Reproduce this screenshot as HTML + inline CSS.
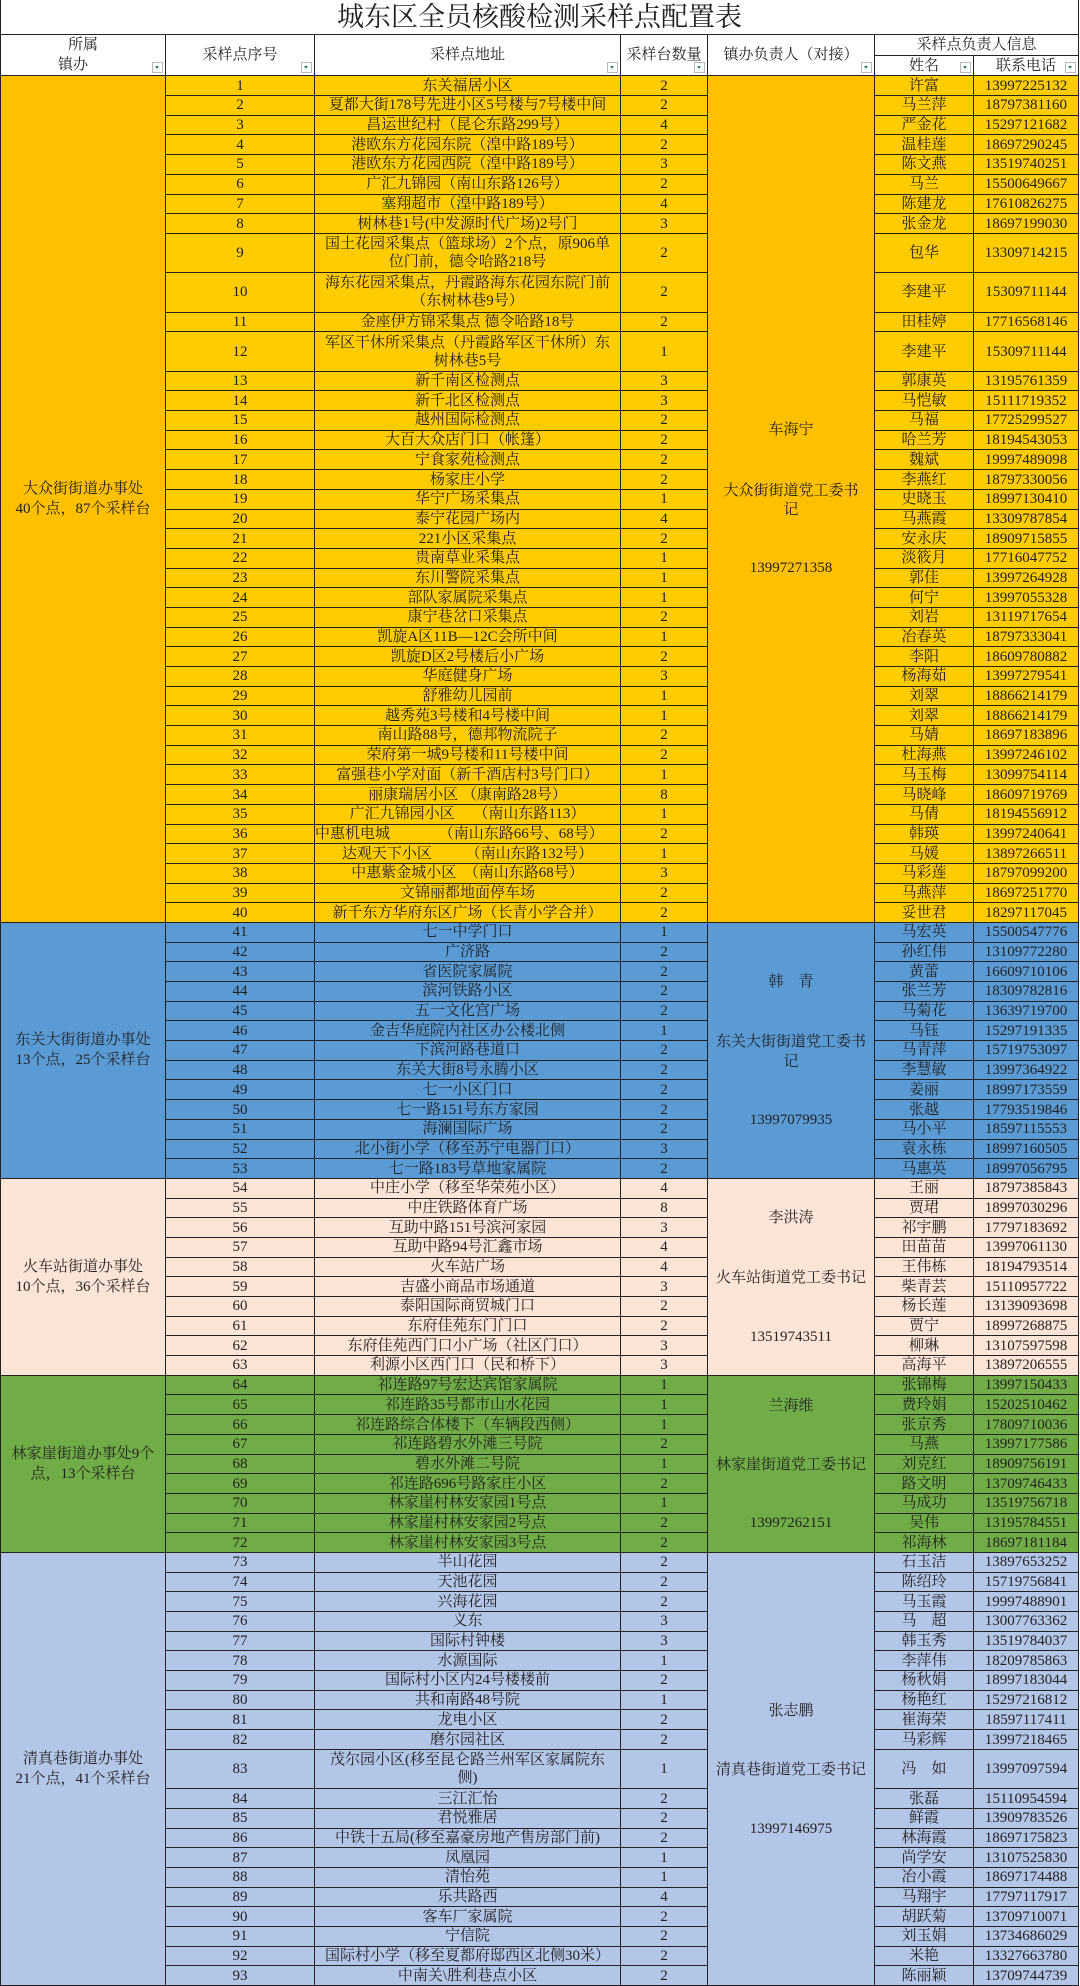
<!DOCTYPE html>
<html><head><meta charset="utf-8">
<style>
html,body{margin:0;padding:0;background:#fff;}
body{width:1080px;height:1985px;position:relative;overflow:hidden;font-family:"Liberation Serif","Noto Serif CJK SC",serif;color:#222;}
table{border-collapse:collapse;table-layout:fixed;position:absolute;left:0;top:0;width:1078px;}
td{border:1px solid #222;padding:0;text-align:center;font-size:15px;line-height:18px;white-space:nowrap;overflow:hidden;position:relative;}
tr.r{height:19.7px;}
tr.d{height:39.4px;}
tr.d td{white-space:normal;}
.title td{height:34px;font-size:27px;border-left:1px solid #222;border-top:none;}
.h td{background:#fff;height:19.7px;}
.y td{background:#FFCC00;}
.b td{background:#5B9BD5;}
.p td{background:#FCE4D6;}
.g td{background:#70AD47;}
.l td{background:#B4C6E7;}
td.my{background:#FFC000 !important;white-space:normal;}
td.m{white-space:normal;line-height:20px;}
.f{position:absolute;right:2px;bottom:2px;width:9px;height:9px;border:1px solid #bbb;background:#fff;}
.f:after{content:"";position:absolute;left:2px;top:3px;border-left:2.5px solid transparent;border-right:2.5px solid transparent;border-top:3px solid #2a8a5a;}
.c5{position:absolute;left:708px;width:166px;text-align:center;font-size:15px;line-height:20px;}
</style></head><body>
<table>
<colgroup><col style="width:165px"><col style="width:149px"><col style="width:306px"><col style="width:87px"><col style="width:167px"><col style="width:99px"><col style="width:105px"></colgroup>
<tr class="title"><td colspan="7" style="border-right:1px solid #222">城东区全员核酸检测采样点配置表</td></tr>
<tr class="h"><td rowspan="2" style="line-height:20px">所属<br><span style="margin-right:20px">镇办</span><span class="f"></span></td><td rowspan="2">采样点序号<span class="f"></span></td><td rowspan="2">采样点地址<span class="f"></span></td><td rowspan="2">采样台数量<span class="f"></span></td><td rowspan="2">镇办负责人（对接）<span class="f"></span></td><td colspan="2">采样点负责人信息</td></tr>
<tr class="h"><td>姓名<span class="f"></span></td><td>联系电话<span class="f"></span></td></tr>

<tr class="r y"><td rowspan="40" class="my m">大众街街道办事处<br>40个点，87个采样台</td><td>1</td><td>东关福居小区</td><td>2</td><td rowspan="40" class="my"></td><td>许富</td><td>13997225132</td></tr>
<tr class="r y"><td>2</td><td>夏都大街178号先进小区5号楼与7号楼中间</td><td>2</td><td>马兰萍</td><td>18797381160</td></tr>
<tr class="r y"><td>3</td><td>昌运世纪村（昆仑东路299号）</td><td>4</td><td>严金花</td><td>15297121682</td></tr>
<tr class="r y"><td>4</td><td>港欧东方花园东院（湟中路189号）</td><td>2</td><td>温桂莲</td><td>18697290245</td></tr>
<tr class="r y"><td>5</td><td>港欧东方花园西院（湟中路189号）</td><td>3</td><td>陈文燕</td><td>13519740251</td></tr>
<tr class="r y"><td>6</td><td>广汇九锦园（南山东路126号）</td><td>2</td><td>马兰</td><td>15500649667</td></tr>
<tr class="r y"><td>7</td><td>塞翔超市（湟中路189号）</td><td>4</td><td>陈建龙</td><td>17610826275</td></tr>
<tr class="r y"><td>8</td><td>树林巷1号(中发源时代广场)2号门</td><td>3</td><td>张金龙</td><td>18697199030</td></tr>
<tr class="d y"><td>9</td><td>国土花园采集点（篮球场）2个点，原906单<br>位门前，德令哈路218号</td><td>2</td><td>包华</td><td>13309714215</td></tr>
<tr class="d y"><td>10</td><td>海东花园采集点，丹霞路海东花园东院门前<br>（东树林巷9号）</td><td>2</td><td>李建平</td><td>15309711144</td></tr>
<tr class="r y"><td>11</td><td>金座伊方锦采集点 德令哈路18号</td><td>2</td><td>田桂婷</td><td>17716568146</td></tr>
<tr class="d y"><td>12</td><td>军区干休所采集点（丹霞路军区干休所）东<br>树林巷5号</td><td>1</td><td>李建平</td><td>15309711144</td></tr>
<tr class="r y"><td>13</td><td>新千南区检测点</td><td>3</td><td>郭康英</td><td>13195761359</td></tr>
<tr class="r y"><td>14</td><td>新千北区检测点</td><td>3</td><td>马恺敏</td><td>15111719352</td></tr>
<tr class="r y"><td>15</td><td>越州国际检测点</td><td>2</td><td>马福</td><td>17725299527</td></tr>
<tr class="r y"><td>16</td><td>大百大众店门口（帐篷）</td><td>2</td><td>哈兰芳</td><td>18194543053</td></tr>
<tr class="r y"><td>17</td><td>宁食家苑检测点</td><td>2</td><td>魏斌</td><td>19997489098</td></tr>
<tr class="r y"><td>18</td><td>杨家庄小学</td><td>2</td><td>李燕红</td><td>18797330056</td></tr>
<tr class="r y"><td>19</td><td>华宁广场采集点</td><td>1</td><td>史晓玉</td><td>18997130410</td></tr>
<tr class="r y"><td>20</td><td>泰宁花园广场内</td><td>4</td><td>马燕霞</td><td>13309787854</td></tr>
<tr class="r y"><td>21</td><td>221小区采集点</td><td>2</td><td>安永庆</td><td>18909715855</td></tr>
<tr class="r y"><td>22</td><td>贵南草业采集点</td><td>1</td><td>淡筱月</td><td>17716047752</td></tr>
<tr class="r y"><td>23</td><td>东川警院采集点</td><td>1</td><td>郭佳</td><td>13997264928</td></tr>
<tr class="r y"><td>24</td><td>部队家属院采集点</td><td>1</td><td>何宁</td><td>13997055328</td></tr>
<tr class="r y"><td>25</td><td>康宁巷岔口采集点</td><td>2</td><td>刘岩</td><td>13119717654</td></tr>
<tr class="r y"><td>26</td><td>凯旋A区11B—12C会所中间</td><td>1</td><td>冶春英</td><td>18797333041</td></tr>
<tr class="r y"><td>27</td><td>凯旋D区2号楼后小广场</td><td>2</td><td>李阳</td><td>18609780882</td></tr>
<tr class="r y"><td>28</td><td>华庭健身广场</td><td>3</td><td>杨海茹</td><td>13997279541</td></tr>
<tr class="r y"><td>29</td><td>舒雅幼儿园前</td><td>1</td><td>刘翠</td><td>18866214179</td></tr>
<tr class="r y"><td>30</td><td>越秀苑3号楼和4号楼中间</td><td>1</td><td>刘翠</td><td>18866214179</td></tr>
<tr class="r y"><td>31</td><td>南山路88号，德邦物流院子</td><td>2</td><td>马婧</td><td>18697183896</td></tr>
<tr class="r y"><td>32</td><td>荣府第一城9号楼和11号楼中间</td><td>2</td><td>杜海燕</td><td>13997246102</td></tr>
<tr class="r y"><td>33</td><td>富强巷小学对面（新千酒店村3号门口）</td><td>1</td><td>马玉梅</td><td>13099754114</td></tr>
<tr class="r y"><td>34</td><td>丽康瑞居小区 （康南路28号）</td><td>8</td><td>马晓峰</td><td>18609719769</td></tr>
<tr class="r y"><td>35</td><td>广汇九锦园小区　 （南山东路113）</td><td>1</td><td>马倩</td><td>18194556912</td></tr>
<tr class="r y"><td>36</td><td style="text-align:left">中惠机电城　　　 （南山东路66号、68号）</td><td>2</td><td>韩瑛</td><td>13997240641</td></tr>
<tr class="r y"><td>37</td><td>达观天下小区　　 （南山东路132号）</td><td>1</td><td>马媛</td><td>13897266511</td></tr>
<tr class="r y"><td>38</td><td>中惠紫金城小区　（南山东路68号）</td><td>3</td><td>马彩莲</td><td>18797099200</td></tr>
<tr class="r y"><td>39</td><td>文锦丽都地面停车场</td><td>2</td><td>马燕萍</td><td>18697251770</td></tr>
<tr class="r y"><td>40</td><td>新千东方华府东区广场（长青小学合并）</td><td>2</td><td>妥世君</td><td>18297117045</td></tr>

<tr class="r b"><td rowspan="13" class="m">东关大街街道办事处<br>13个点，25个采样台</td><td>41</td><td>七一中学门口</td><td>1</td><td rowspan="13"></td><td>马宏英</td><td>15500547776</td></tr>
<tr class="r b"><td>42</td><td>广济路</td><td>2</td><td>孙红伟</td><td>13109772280</td></tr>
<tr class="r b"><td>43</td><td>省医院家属院</td><td>2</td><td>黄蕾</td><td>16609710106</td></tr>
<tr class="r b"><td>44</td><td>滨河铁路小区</td><td>2</td><td>张兰芳</td><td>18309782816</td></tr>
<tr class="r b"><td>45</td><td>五一文化宫广场</td><td>2</td><td>马菊花</td><td>13639719700</td></tr>
<tr class="r b"><td>46</td><td>金吉华庭院内社区办公楼北侧</td><td>1</td><td>马钰</td><td>15297191335</td></tr>
<tr class="r b"><td>47</td><td>下滨河路巷道口</td><td>2</td><td>马青萍</td><td>15719753097</td></tr>
<tr class="r b"><td>48</td><td>东关大街8号永腾小区</td><td>2</td><td>李慧敏</td><td>13997364922</td></tr>
<tr class="r b"><td>49</td><td>七一小区门口</td><td>2</td><td>姜丽</td><td>18997173559</td></tr>
<tr class="r b"><td>50</td><td>七一路151号东方家园</td><td>2</td><td>张越</td><td>17793519846</td></tr>
<tr class="r b"><td>51</td><td>海澜国际广场</td><td>2</td><td>马小平</td><td>18597115553</td></tr>
<tr class="r b"><td>52</td><td>北小街小学（移至苏宁电器门口）</td><td>3</td><td>袁永栋</td><td>18997160505</td></tr>
<tr class="r b"><td>53</td><td>七一路183号草地家属院</td><td>2</td><td>马惠英</td><td>18997056795</td></tr>

<tr class="r p"><td rowspan="10" class="m">火车站街道办事处<br>10个点，36个采样台</td><td>54</td><td>中庄小学（移至华荣苑小区）</td><td>4</td><td rowspan="10"></td><td>王丽</td><td>18797385843</td></tr>
<tr class="r p"><td>55</td><td>中庄铁路体育广场</td><td>8</td><td>贾珺</td><td>18997030296</td></tr>
<tr class="r p"><td>56</td><td>互助中路151号滨河家园</td><td>3</td><td>祁宇鹏</td><td>17797183692</td></tr>
<tr class="r p"><td>57</td><td>互助中路94号汇鑫市场</td><td>4</td><td>田苗苗</td><td>13997061130</td></tr>
<tr class="r p"><td>58</td><td>火车站广场</td><td>4</td><td>王伟栋</td><td>18194793514</td></tr>
<tr class="r p"><td>59</td><td>吉盛小商品市场通道</td><td>3</td><td>柴青芸</td><td>15110957722</td></tr>
<tr class="r p"><td>60</td><td>泰阳国际商贸城门口</td><td>2</td><td>杨长莲</td><td>13139093698</td></tr>
<tr class="r p"><td>61</td><td>东府佳苑东门门口</td><td>2</td><td>贾宁</td><td>18997268875</td></tr>
<tr class="r p"><td>62</td><td>东府佳苑西门口小广场（社区门口）</td><td>3</td><td>柳琳</td><td>13107597598</td></tr>
<tr class="r p"><td>63</td><td>利源小区西门口（民和桥下）</td><td>3</td><td>高海平</td><td>13897206555</td></tr>

<tr class="r g"><td rowspan="9" class="m">林家崖街道办事处9个<br>点，13个采样台</td><td>64</td><td>祁连路97号宏达宾馆家属院</td><td>1</td><td rowspan="9"></td><td>张锦梅</td><td>13997150433</td></tr>
<tr class="r g"><td>65</td><td>祁连路35号都市山水花园</td><td>1</td><td>费玲娟</td><td>15202510462</td></tr>
<tr class="r g"><td>66</td><td>祁连路综合体楼下（车辆段西侧）</td><td>1</td><td>张京秀</td><td>17809710036</td></tr>
<tr class="r g"><td>67</td><td>祁连路碧水外滩三号院</td><td>2</td><td>马燕</td><td>13997177586</td></tr>
<tr class="r g"><td>68</td><td>碧水外滩二号院</td><td>1</td><td>刘克红</td><td>18909756191</td></tr>
<tr class="r g"><td>69</td><td>祁连路696号路家庄小区</td><td>2</td><td>路文明</td><td>13709746433</td></tr>
<tr class="r g"><td>70</td><td>林家崖村林安家园1号点</td><td>1</td><td>马成功</td><td>13519756718</td></tr>
<tr class="r g"><td>71</td><td>林家崖村林安家园2号点</td><td>2</td><td>吴伟</td><td>13195784551</td></tr>
<tr class="r g"><td>72</td><td>林家崖村林安家园3号点</td><td>2</td><td>祁海林</td><td>18697181184</td></tr>

<tr class="r l"><td rowspan="21" class="m">清真巷街道办事处<br>21个点，41个采样台</td><td>73</td><td>半山花园</td><td>2</td><td rowspan="21"></td><td>石玉洁</td><td>13897653252</td></tr>
<tr class="r l"><td>74</td><td>天池花园</td><td>2</td><td>陈绍玲</td><td>15719756841</td></tr>
<tr class="r l"><td>75</td><td>兴海花园</td><td>2</td><td>马玉霞</td><td>19997488901</td></tr>
<tr class="r l"><td>76</td><td>义东</td><td>3</td><td>马　超</td><td>13007763362</td></tr>
<tr class="r l"><td>77</td><td>国际村钟楼</td><td>3</td><td>韩玉秀</td><td>13519784037</td></tr>
<tr class="r l"><td>78</td><td>水源国际</td><td>1</td><td>李萍伟</td><td>18209785863</td></tr>
<tr class="r l"><td>79</td><td>国际村小区内24号楼楼前</td><td>2</td><td>杨秋娟</td><td>18997183044</td></tr>
<tr class="r l"><td>80</td><td>共和南路48号院</td><td>1</td><td>杨艳红</td><td>15297216812</td></tr>
<tr class="r l"><td>81</td><td>龙电小区</td><td>2</td><td>崔海荣</td><td>18597117411</td></tr>
<tr class="r l"><td>82</td><td>磨尔园社区</td><td>2</td><td>马彩辉</td><td>13997218465</td></tr>
<tr class="d l"><td>83</td><td>茂尔园小区(移至昆仑路兰州军区家属院东<br>侧)</td><td>1</td><td>冯　如</td><td>13997097594</td></tr>
<tr class="r l"><td>84</td><td>三江汇怡</td><td>2</td><td>张磊</td><td>15110954594</td></tr>
<tr class="r l"><td>85</td><td>君悦雅居</td><td>2</td><td>鲜霞</td><td>13909783526</td></tr>
<tr class="r l"><td>86</td><td>中铁十五局(移至嘉豪房地产售房部门前)</td><td>2</td><td>林海霞</td><td>18697175823</td></tr>
<tr class="r l"><td>87</td><td>凤凰园</td><td>1</td><td>尚学安</td><td>13107525830</td></tr>
<tr class="r l"><td>88</td><td>清怡苑</td><td>1</td><td>冶小霞</td><td>18697174488</td></tr>
<tr class="r l"><td>89</td><td>乐共路西</td><td>4</td><td>马翔宇</td><td>17797117917</td></tr>
<tr class="r l"><td>90</td><td>客车厂家属院</td><td>2</td><td>胡跃菊</td><td>13709710071</td></tr>
<tr class="r l"><td>91</td><td>宁信院</td><td>2</td><td>刘玉娟</td><td>13734686029</td></tr>
<tr class="r l"><td>92</td><td>国际村小学（移至夏都府邸西区北侧30米）</td><td>2</td><td>米艳</td><td>13327663780</td></tr>
<tr class="r l"><td>93</td><td>中南关\胜利巷点小区</td><td>2</td><td>陈丽颖</td><td>13709744739</td></tr>
</table>

<div class="c5" style="top:420px">车海宁</div>
<div class="c5" style="top:481px">大众街街道党工委书</div>
<div class="c5" style="top:500px">记</div>
<div class="c5" style="top:558px">13997271358</div>

<div class="c5" style="top:972px">韩　青</div>
<div class="c5" style="top:1032px">东关大街街道党工委书</div>
<div class="c5" style="top:1052px">记</div>
<div class="c5" style="top:1110px">13997079935</div>

<div class="c5" style="top:1208px">李洪涛</div>
<div class="c5" style="top:1268px">火车站街道党工委书记</div>
<div class="c5" style="top:1327px">13519743511</div>

<div class="c5" style="top:1396px">兰海维</div>
<div class="c5" style="top:1455px">林家崖街道党工委书记</div>
<div class="c5" style="top:1513px">13997262151</div>

<div class="c5" style="top:1701px">张志鹏</div>
<div class="c5" style="top:1760px">清真巷街道党工委书记</div>
<div class="c5" style="top:1819px">13997146975</div>
</body></html>
